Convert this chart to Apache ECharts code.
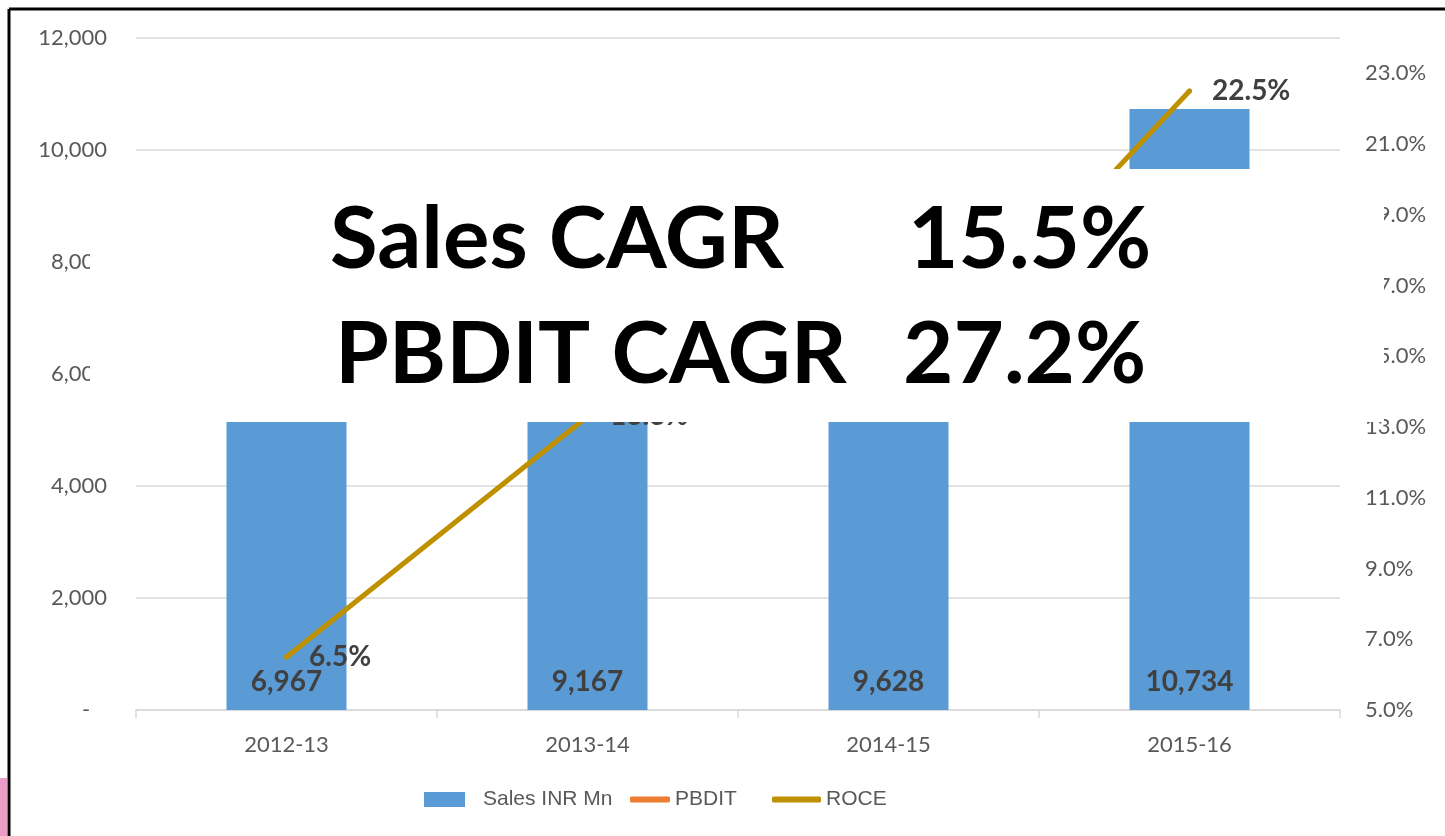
<!DOCTYPE html>
<html>
<head>
<meta charset="utf-8">
<script src="https://cdn.jsdelivr.net/npm/echarts@6/dist/echarts.min.js"></script>
<style>
  html, body { margin: 0; padding: 0; background: #fff; }
  #chart { width: 1445px; height: 836px; }
</style>
</head>
<body>
<div id="chart"></div>
<script>
  // data
  const years = ['2012-13', '2013-14', '2014-15', '2015-16'];
  const salesValues = [6967, 9167, 9628, 10734];
  const pbditValues = []; // hidden under the CAGR box in the original
  const roceValues = [6.5, 13.3, 13.4, 22.5];
  const cagrRows = [['Sales CAGR', '15.5%'], ['PBDIT CAGR', '27.2%']];

  const grey = '#595959';
  const labelFont = 'Lato, "Noto Sans", sans-serif';
  const bigFont = 'bold 87px Lato, sans-serif';

  const chart = echarts.init(document.getElementById('chart'), null, { renderer: 'canvas' });

  function legendItem(name, left, width, height, icon, gap) {
    return {
      data: [name],
      left: left,
      top: 789,
      padding: 0,
      icon: icon,
      itemWidth: width,
      itemHeight: height,
      selectedMode: false,
      textStyle: {
        color: grey,
        fontSize: 21,
        fontFamily: '"Liberation Sans Narrow", "Arial Narrow", "Liberation Sans", sans-serif',
        padding: [0, 0, 0, gap]
      }
    };
  }

  function bigText(str, x, y) {
    return { type: 'text', z: 100, x: x, y: y, style: { text: str, fill: '#000', font: bigFont, textVerticalAlign: 'bottom' } };
  }

  chart.setOption({
    animation: false,
    backgroundColor: '#fff',
    grid: { left: 136, right: 105, top: 38, bottom: 126 },
    legend: [
      legendItem('Sales INR Mn', 424, 41, 15, 'rect', 13),
      legendItem('PBDIT', 630, 40, 6, 'roundRect', 0),
      legendItem('ROCE', 772, 49, 6, 'roundRect', 0)
    ],
    xAxis: {
      type: 'category',
      data: years,
      axisLine: { lineStyle: { color: '#d9d9d9', width: 1.5 } },
      axisTick: { show: true, length: 8, lineStyle: { color: '#d9d9d9', width: 1.5 } },
      axisLabel: { color: grey, fontSize: 22, fontFamily: labelFont, margin: 24 }
    },
    yAxis: [{
      type: 'value',
      min: 0,
      max: 12000,
      interval: 2000,
      axisLine: { show: false },
      axisTick: { show: false },
      splitLine: { lineStyle: { color: '#d9d9d9', width: 1.5 } },
      axisLabel: {
        color: grey,
        fontSize: 22,
        fontFamily: labelFont,
        margin: 29,
        formatter: v => v === 0 ? '-   ' : v.toLocaleString('en-US')
      }
    }, {
      type: 'value',
      min: 5,
      max: 24,
      interval: 2,
      axisLine: { show: false },
      axisTick: { show: false },
      splitLine: { show: false },
      axisLabel: {
        color: grey,
        fontSize: 22,
        fontFamily: labelFont,
        margin: 25,
        showMaxLabel: false,
        formatter: v => v.toFixed(1) + '%'
      }
    }],
    series: [{
      name: 'Sales INR Mn',
      type: 'bar',
      data: salesValues,
      barWidth: 120,
      itemStyle: { color: '#5B9BD5' },
      label: {
        show: true,
        position: 'insideBottom',
        distance: 14,
        color: '#404040',
        fontSize: 28,
        fontWeight: 'bold',
        fontFamily: labelFont,
        formatter: p => p.value.toLocaleString('en-US')
      }
    }, {
      name: 'PBDIT',
      type: 'line',
      yAxisIndex: 1,
      data: pbditValues,
      showSymbol: false,
      itemStyle: { color: '#ED7D31' },
      lineStyle: { color: '#ED7D31', width: 5, cap: 'round' }
    }, {
      name: 'ROCE',
      type: 'line',
      yAxisIndex: 1,
      data: roceValues,
      symbol: 'circle',
      symbolSize: 5,
      itemStyle: { color: '#BF9000' },
      lineStyle: { color: '#BF9000', width: 5, cap: 'round' },
      label: {
        show: true,
        position: 'right',
        distance: 20,
        color: '#404040',
        fontSize: 28,
        fontWeight: 'bold',
        fontFamily: labelFont,
        formatter: p => p.value.toFixed(1) + '%'
      }
    }],
    graphic: [
      { type: 'rect', z: 100, shape: { x: 90, y: 169, width: 1294, height: 253 }, style: { fill: '#fff' } },
      bigText(cagrRows[0][0], 330, 283),
      bigText(cagrRows[0][1], 908, 283),
      bigText(cagrRows[1][0], 335, 398),
      bigText(cagrRows[1][1], 903, 398),
      { type: 'line', z: 110, shape: { x1: 9, y1: 9, x2: 1445, y2: 9 }, style: { stroke: '#000', lineWidth: 3 } },
      { type: 'line', z: 110, shape: { x1: 9, y1: 9, x2: 9, y2: 836 }, style: { stroke: '#000', lineWidth: 3 } },
      { type: 'rect', z: 110, shape: { x: 0, y: 778, width: 7, height: 58 }, style: { fill: '#E99CC6' } }
    ]
  });
</script>
</body>
</html>
